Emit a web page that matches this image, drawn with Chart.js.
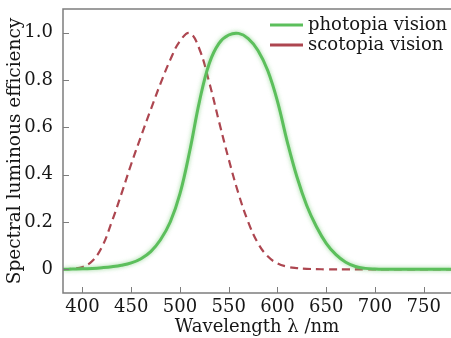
<!DOCTYPE html>
<html>
<head>
<meta charset="utf-8">
<script src="https://cdn.jsdelivr.net/npm/chart.js@4.4.1/dist/chart.umd.min.js"></script>
<style>
	html, body { margin: 0; padding: 0; background: #fff; }
</style>
</head>
<body>
<canvas id="chart_luminous" width="451" height="338"></canvas>
<script>
// wavelength in nm
var wavelength = [380, 390, 400, 410, 420, 430, 440, 450, 460, 470,
	480, 490, 500, 510, 520, 530, 540, 550, 560, 570,
	580, 590, 600, 610, 620, 630, 640, 650, 660, 670,
	680, 690, 700, 710, 720, 730, 740, 750, 760, 770, 780];

var photopia = [0, 0.001, 0.002, 0.004, 0.007, 0.011, 0.017, 0.027, 0.045, 0.075,
	0.125, 0.2, 0.32, 0.5, 0.71, 0.87, 0.955, 0.99, 0.997, 0.975,
	0.925, 0.84, 0.71, 0.54, 0.39, 0.27, 0.18, 0.11, 0.062, 0.03,
	0.012, 0.004, 0.001, 0, 0, 0, 0, 0, 0, 0, 0];

var scotopia = [0, 0.003, 0.01, 0.035, 0.095, 0.2, 0.32, 0.445, 0.562, 0.675,
	0.785, 0.885, 0.965, 0.998, 0.93, 0.79, 0.625, 0.465, 0.32, 0.2,
	0.11, 0.055, 0.025, 0.011, 0.005, 0.002, 0.001, 0, 0, 0,
	0, 0, 0, 0, 0, 0, 0, 0, 0, 0, 0];

var xTicks = [400, 450, 500, 550, 600, 650, 700, 750];
var yTicks = [0, 0.2, 0.4, 0.6, 0.8, 1.0];
var seriesLabels = ['photopia vision', 'scotopia vision'];

var fontFamily = '"DejaVu Serif", serif';
var frameColor = '#7d7d7d';

function toPoints(values) {
	return wavelength.map(function (w, i) { return { x: w, y: values[i] }; });
}

// frame, inward tick marks and the legend in the top right corner
var frameTicks = {
	id: 'frameTicks',
	beforeDatasetDraw: function (chart, args) {
		if (args.index === 0) {
			chart.ctx.save();
			chart.ctx.shadowColor = 'rgba(110, 200, 110, 0.7)';
			chart.ctx.shadowBlur = 4;
		}
	},
	afterDatasetDraw: function (chart, args) {
		if (args.index === 0) chart.ctx.restore();
	},
	afterDraw: function (chart) {
		var ctx = chart.ctx;
		var area = chart.chartArea;
		var xs = chart.scales.x;
		var ys = chart.scales.y;

		ctx.save();
		ctx.strokeStyle = frameColor;
		ctx.lineWidth = 1.5;
		ctx.beginPath();
		ctx.moveTo(chart.width, area.top);
		ctx.lineTo(area.left, area.top);
		ctx.lineTo(area.left, area.bottom);
		ctx.lineTo(chart.width, area.bottom);
		ctx.stroke();

		ctx.lineWidth = 1;
		ctx.beginPath();
		xTicks.forEach(function (v) {
			var px = Math.round(xs.getPixelForValue(v)) + 0.5;
			ctx.moveTo(px, area.bottom);
			ctx.lineTo(px, area.bottom - 6);
		});
		yTicks.forEach(function (v) {
			var py = Math.round(ys.getPixelForValue(v)) + 0.5;
			ctx.moveTo(area.left, py);
			ctx.lineTo(area.left + 6, py);
		});
		ctx.stroke();

		// legend
		ctx.font = '18px ' + fontFamily;
		ctx.textBaseline = 'middle';
		ctx.textAlign = 'left';
		chart.data.datasets.forEach(function (ds, i) {
			var y = area.top + 16 + i * 20;
			ctx.strokeStyle = ds.borderColor;
			ctx.lineWidth = 3;
			ctx.setLineDash([]);
			ctx.beginPath();
			ctx.moveTo(area.right - 181, y);
			ctx.lineTo(area.right - 148, y);
			ctx.stroke();
			ctx.fillStyle = '#161616';
			ctx.fillText(ds.label, area.right - 143, y);
		});
		ctx.restore();
	}
};

new Chart('chart_luminous', {
	type: 'line',
	data: {
		datasets: [
			{
				label: seriesLabels[0],
				data: toPoints(photopia),
				borderColor: '#5cbf5c',
				borderWidth: 3,
				pointRadius: 0,
				tension: 0.4,
				fill: false
			},
			{
				label: seriesLabels[1],
				data: toPoints(scotopia),
				borderColor: '#ad4650',
				borderWidth: 2.2,
				borderDash: [8, 5],
				pointRadius: 0,
				tension: 0.4,
				fill: false
			}
		]
	},
	options: {
		responsive: false,
		animation: false,
		devicePixelRatio: 1,
		layout: { padding: { top: 9, right: 0, left: 0, bottom: 0 } },
		plugins: {
			legend: { display: false },
			tooltip: { enabled: false }
		},
		scales: {
			x: {
				type: 'linear',
				min: 380,
				max: 778,
				afterBuildTicks: function (scale) {
					scale.ticks = xTicks.map(function (v) { return { value: v }; });
				},
				afterFit: function (scale) {
					scale.height = 45;
					scale.paddingLeft = 0;
					scale.paddingRight = 0;
				},
				grid: { display: false, drawTicks: false },
				border: { display: false },
				ticks: {
					color: '#161616',
					padding: 4,
					maxRotation: 0,
					font: { family: fontFamily, size: 18 }
				},
				title: {
					display: true,
					text: 'Wavelength λ /nm',
					color: '#161616',
					padding: { top: 0, bottom: 0 },
					font: { family: fontFamily, size: 18 }
				}
			},
			y: {
				type: 'linear',
				min: -0.1,
				max: 1.1,
				afterBuildTicks: function (scale) {
					scale.ticks = yTicks.map(function (v) { return { value: v }; });
				},
				afterFit: function (scale) {
					scale.width = 63;
					scale.paddingTop = 0;
					scale.paddingBottom = 0;
				},
				grid: { display: false, drawTicks: false },
				border: { display: false },
				ticks: {
					color: '#161616',
					padding: 10,
					font: { family: fontFamily, size: 18 },
					callback: function (value) {
						return value === 0 ? '0' : value.toFixed(1);
					}
				},
				title: {
					display: true,
					text: 'Spectral luminous efficiency',
					color: '#161616',
					padding: { top: 4, bottom: 0 },
					font: { family: fontFamily, size: 18.5 }
				}
			}
		}
	},
	plugins: [frameTicks]
});
</script>
</body>
</html>
